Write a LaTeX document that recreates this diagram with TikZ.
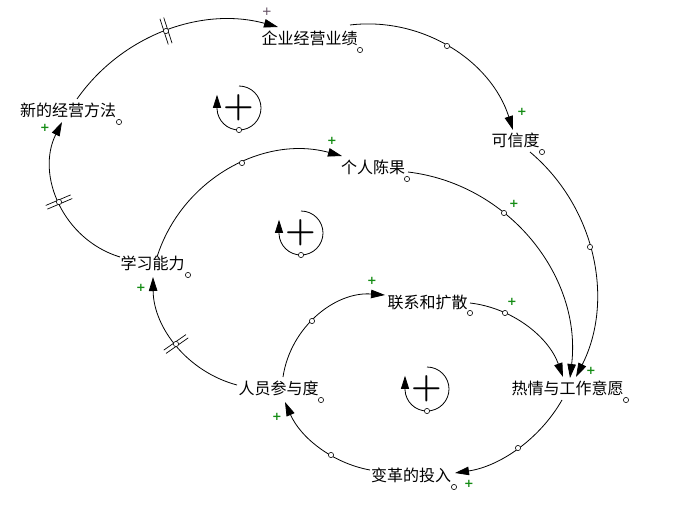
\documentclass[tikz,border=0pt]{standalone}
\usepackage{fontspec}
\newfontfamily\cjk{Noto Sans CJK SC}
\newfontfamily\djv{DejaVu Sans}
\usetikzlibrary{arrows.meta}
\definecolor{polgreen}{RGB}{20,140,20}
\definecolor{poldark}{RGB}{90,70,90}
\begin{document}
\begin{tikzpicture}[x=1pt,y=1pt,
  var/.style={inner sep=0pt, font=\cjk\fontsize{16}{16}\selectfont},
  link/.style={line width=0.8pt, -{Triangle[length=14pt,width=8.5pt]}},
  handle/.style={circle, draw, fill=white, line width=0.6pt, minimum size=5.2pt, inner sep=0pt},
  pol/.style={inner sep=0pt, text=polgreen, font=\djv\bfseries\fontsize{11.5}{11.5}\selectfont},
  poltop/.style={pol, text=poldark, font=\djv\fontsize{12}{12}\selectfont},
  loopplus/.style={inner sep=0pt, font=\bfseries\fontsize{35}{35}\selectfont},
  loopline/.style={line width=0.8pt, -{Triangle[length=13pt,width=8pt]}},
  delaybar/.style={line width=0.7pt}
]
\fill[white] (0,0) rectangle (677,-511);
\useasboundingbox (0,0) rectangle (677,-511);

% variables
\node[var] (qy)   at (309.5,-38)  {企业经营业绩};
\node[var] (xin)  at (68,-110)    {新的经营方法};
\node[var] (kxd)  at (515.5,-140.5) {可信度};
\node[var] (grcg) at (373,-167)   {个人陈果};
\node[var] (xx)   at (152.5,-263) {学习能力};
\node[var] (lx)   at (427.5,-302) {联系和扩散};
\node[var] (ry)   at (278.5,-388.5) {人员参与度};
\node[var] (rq)   at (567.5,-388.5) {热情与工作意愿};
\node[var] (bg)   at (411,-475.5) {变革的投入};

% links
\draw[link] ([xshift=9pt,yshift=11pt]xin.center) to[out=54.9,in=164.7,looseness=0.94] ([xshift=-31.5pt,yshift=11pt]qy.center);
\draw[link] ([xshift=40.5pt,yshift=13pt]qy.center) to[out=6.8,in=107.6,looseness=0.962] ([xshift=-2.5pt,yshift=10.5pt]kxd.center);
\draw[link] ([xshift=14.5pt,yshift=-11.5pt]kxd.center) to[out=-40.1,in=63.2,looseness=0.955] ([xshift=8.5pt,yshift=11.5pt]rq.center);
\draw[link] ([xshift=35pt,yshift=-5pt]grcg.center) to[out=-6.8,in=83.2,looseness=0.997] ([xshift=2.5pt,yshift=10.5pt]rq.center);
\draw[link] ([xshift=4.5pt,yshift=6pt]xx.center) to[out=72.4,in=164.8,looseness=0.989] ([xshift=-31pt,yshift=11pt]grcg.center);
\draw[link] ([xshift=-41.5pt,yshift=3.5pt]ry.center) to[out=165.1,in=-89.5,looseness=0.949] ([xshift=0.5pt,yshift=-14pt]xx.center);
\draw[link] ([xshift=-32.5pt,yshift=6pt]xx.center) to[out=163.1,in=243.4,looseness=1.034] ([xshift=-6pt,yshift=-12pt]xin.center);
\draw[link] ([xshift=4.5pt,yshift=11.5pt]ry.center) to[out=81.6,in=175.8,looseness=0.983] ([xshift=-42.5pt,yshift=7pt]lx.center);
\draw[link] ([xshift=42.5pt,yshift=-1pt]lx.center) to[out=-6.6,in=109.7,looseness=0.921] ([xshift=-4.5pt,yshift=11.5pt]rq.center);
\draw[link] ([xshift=-5.5pt,yshift=-11.5pt]rq.center) to[out=-119.8,in=8.5,looseness=0.896] ([xshift=44pt,yshift=2.5pt]bg.center);
\draw[link] ([xshift=-41pt,yshift=5.5pt]bg.center) to[out=169.6,in=293.5,looseness=0.905] ([xshift=6.5pt,yshift=-13.5pt]ry.center);

% delay marks
\begin{scope}[shift={(166,-31)},rotate=108]
  \draw[delaybar] (-13.5,-2) -- (13.5,-2);
  \draw[delaybar] (-13.5,2) -- (13.5,2);
\end{scope}
\begin{scope}[shift={(59,-202)},rotate=23]
  \draw[delaybar] (-13.5,-2) -- (13.5,-2);
  \draw[delaybar] (-13.5,2) -- (13.5,2);
\end{scope}
\begin{scope}[shift={(176,-344)},rotate=35]
  \draw[delaybar] (-13.5,-2) -- (13.5,-2);
  \draw[delaybar] (-13.5,2) -- (13.5,2);
\end{scope}

% handles on links
\node[handle] (c2)  at (447,-46) {};
\node[handle] (c3)  at (590,-247) {};
\node[handle] (c4)  at (504,-213) {};
\node[handle] (c5)  at (242,-163) {};
\node[handle] (c8)  at (312,-321) {};
\node[handle] (c9)  at (505,-313) {};
\node[handle] (c10) at (518,-448) {};
\node[handle] (c11) at (331,-455) {};
\node[handle] (d1)  at (166,-31) {};
\node[handle] (d6)  at (176,-344) {};
\node[handle] (d7)  at (59,-202) {};

% handles on variables
\node[handle] (hqy)   at (360,-50) {};
\node[handle] (hxin)  at (119,-122) {};
\node[handle] (hkxd)  at (542,-152) {};
\node[handle] (hgrcg) at (407,-179) {};
\node[handle] (hxx)   at (188,-275) {};
\node[handle] (hry)   at (321,-400) {};
\node[handle] (hlx)   at (470,-313) {};
\node[handle] (hrq)   at (626,-400) {};
\node[handle] (hbg)   at (454,-487) {};

% polarities
\node[poltop] (p1) at (267,-12) {+};
\node[pol] (p2)  at (522,-112) {+};
\node[pol] (p3)  at (591,-371) {+};
\node[pol] (p4)  at (514,-204) {+};
\node[pol] (p5)  at (332,-141) {+};
\node[pol] (p6)  at (141,-288) {+};
\node[pol] (p7)  at (45,-128) {+};
\node[pol] (p8)  at (372,-281) {+};
\node[pol] (p9)  at (512,-302) {+};
\node[pol] (p10) at (469,-484) {+};
\node[pol] (p11) at (277,-417) {+};

% loop markers
\node[loopplus] (L1) at (239,-108) {+};
\draw[loopline] ([yshift=22pt]L1.center) arc[start angle=90,end angle=-178,radius=22pt] -- ++(0,14);
\node[handle] (L1h) at (239,-130) {};

\node[loopplus] (L2) at (301,-233) {+};
\draw[loopline] ([yshift=22pt]L2.center) arc[start angle=90,end angle=-178,radius=22pt] -- ++(0,14);
\node[handle] (L2h) at (301,-255) {};

\node[loopplus] (L3) at (427,-389) {+};
\draw[loopline] ([yshift=22pt]L3.center) arc[start angle=90,end angle=-178,radius=22pt] -- ++(0,14);
\node[handle] (L3h) at (427,-411) {};
\end{tikzpicture}
\end{document}
